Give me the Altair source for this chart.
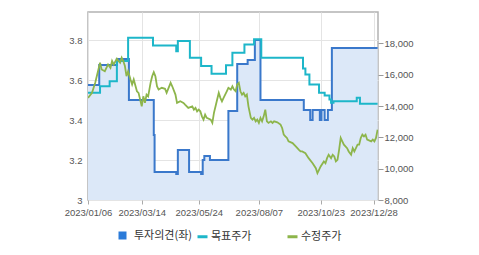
import altair as alt
import pandas as pd

# ---------------- data ----------------
# 투자의견 (left axis), change points of a step line
opinion_dates = ["2023-01-06", "2023-01-20", "2023-02-11", "2023-02-26", "2023-03-29", "2023-03-30",
                 "2023-04-26", "2023-04-28", "2023-05-12", "2023-05-27", "2023-05-29", "2023-05-31",
                 "2023-06-07", "2023-06-30", "2023-07-11", "2023-07-24", "2023-08-02", "2023-08-09",
                 "2023-10-02", "2023-10-10", "2023-10-13", "2023-10-22", "2023-10-24", "2023-10-28",
                 "2023-11-01", "2023-11-06", "2024-01-02"]
opinion_values = [3.575, 3.675, 3.705, 3.50, 3.325, 3.14,
                  3.13, 3.25, 3.14, 3.13, 3.20, 3.22,
                  3.20, 3.445, 3.68, 3.70, 3.80, 3.50,
                  3.45, 3.40, 3.45, 3.40, 3.45, 3.40,
                  3.45, 3.76, 3.76]

# 목표주가 (right axis), change points of a step line
target_dates = ["2023-01-06", "2023-01-21", "2023-02-02", "2023-02-11", "2023-02-25", "2023-03-28",
                "2023-04-26", "2023-04-28", "2023-05-13", "2023-05-27", "2023-06-09", "2023-06-27",
                "2023-07-05", "2023-07-20", "2023-08-01", "2023-08-10", "2023-10-01", "2023-10-04",
                "2023-10-09", "2023-10-21", "2023-10-28", "2023-11-03", "2023-11-05", "2023-11-08",
                "2023-12-07", "2023-12-11", "2024-01-02"]
target_values = [14840, 15260, 15580, 16870, 18360, 17860,
                 17500, 18150, 17080, 16550, 16060, 16600,
                 17400, 17930, 18260, 17080, 16400, 16010,
                 15370, 14840, 14670, 14420, 14200, 14300,
                 14520, 14150, 14150]

# 수정주가 (right axis)
price_dates = [
    "2023-01-06", "2023-01-11", "2023-01-15", "2023-01-21", "2023-01-23", "2023-01-27", "2023-01-31",
    "2023-02-03", "2023-02-05", "2023-02-07", "2023-02-11", "2023-02-13", "2023-02-15", "2023-02-17",
    "2023-02-19", "2023-02-21", "2023-02-23", "2023-02-25", "2023-02-28", "2023-03-02", "2023-03-04",
    "2023-03-08", "2023-03-10", "2023-03-12", "2023-03-14", "2023-03-16", "2023-03-18", "2023-03-20",
    "2023-03-22", "2023-03-25", "2023-03-27", "2023-03-29", "2023-03-31", "2023-04-02", "2023-04-04",
    "2023-04-08", "2023-04-12", "2023-04-14", "2023-04-19", "2023-04-21", "2023-04-25", "2023-04-27",
    "2023-05-01", "2023-05-05", "2023-05-07", "2023-05-11", "2023-05-16", "2023-05-18", "2023-05-20",
    "2023-05-22", "2023-05-24", "2023-05-26", "2023-05-28", "2023-05-30", "2023-06-01", "2023-06-03",
    "2023-06-08", "2023-06-10", "2023-06-12", "2023-06-14", "2023-06-16", "2023-06-18", "2023-06-20",
    "2023-06-22", "2023-06-24", "2023-06-26", "2023-06-28", "2023-06-30", "2023-07-03", "2023-07-05",
    "2023-07-07", "2023-07-09", "2023-07-11", "2023-07-13", "2023-07-15", "2023-07-17", "2023-07-19",
    "2023-07-21", "2023-07-23", "2023-07-25", "2023-07-28", "2023-07-30", "2023-08-01", "2023-08-03",
    "2023-08-05", "2023-08-07", "2023-08-09", "2023-08-11", "2023-08-13", "2023-08-15", "2023-08-17",
    "2023-08-19", "2023-08-22", "2023-08-24", "2023-08-26", "2023-08-30", "2023-09-03", "2023-09-05",
    "2023-09-07", "2023-09-09", "2023-09-11", "2023-09-13", "2023-09-18", "2023-09-22", "2023-09-24",
    "2023-09-26", "2023-09-28", "2023-09-30", "2023-10-04", "2023-10-08", "2023-10-13", "2023-10-17",
    "2023-10-19", "2023-10-21", "2023-10-23", "2023-10-27", "2023-10-29", "2023-10-31", "2023-11-02",
    "2023-11-05", "2023-11-07", "2023-11-09", "2023-11-11", "2023-11-13", "2023-11-15", "2023-11-17",
    "2023-11-19", "2023-11-21", "2023-11-25", "2023-11-27", "2023-11-30", "2023-12-02", "2023-12-04",
    "2023-12-06", "2023-12-08", "2023-12-10", "2023-12-12", "2023-12-14", "2023-12-16", "2023-12-18",
    "2023-12-20", "2023-12-25", "2023-12-27", "2023-12-29", "2023-12-31", "2024-01-02"]
price_values = [
    14520, 14840, 15480, 16760, 16330, 16220, 16650,
    16440, 16870, 16650, 17020, 16870, 16760, 17080,
    16870, 16550, 15900, 16220, 15690, 15370, 15690,
    14940, 14840, 14410, 13980, 14620, 14200, 14730,
    14620, 15480, 15900, 16160, 15900, 15260, 15050,
    15160, 15100, 14840, 15480, 15260, 14730, 14200,
    14300, 14200, 14090, 13880, 13980, 13770, 13880,
    13660, 13770, 13660, 13340, 13130, 13450, 13240,
    13130, 12920, 13560, 13980, 14410, 14840, 14520,
    14300, 14520, 14730, 14940, 15160, 15050, 15260,
    15050, 14940, 15370, 15480, 14940, 14730, 14840,
    14620, 14730, 13980, 13240, 13130, 13240, 13020,
    13130, 12920, 13240, 13020, 13340, 13770, 13020,
    12920, 13020, 12920, 13020, 12960, 12810, 12600,
    12170, 12060, 11960, 11740, 11630, 11420, 11310,
    11200, 11100, 11100, 10990, 10670, 10350, 10030,
    9710, 9920, 10140, 10460, 10350, 10670, 10890,
    10670, 10890, 10780, 10460, 10560, 11200, 11960,
    11740, 11530, 11310, 11100, 10890, 11310, 11100,
    11310, 11530, 11530, 11960, 12170, 12060, 12170,
    11850, 11740, 11850, 11740, 11960, 12490]

series_opinion = "투자의견(좌)"
series_lines = ["목표주가", "수정주가"]
tick_dates = [(2023, 1, 6), (2023, 3, 14), (2023, 5, 24), (2023, 8, 7), (2023, 10, 23), (2023, 12, 28)]
left_ticks = [3, 3.2, 3.4, 3.6, 3.8]
right_ticks = [8000, 10000, 12000, 14000, 16000, 18000]

# ---------------- tables ----------------
opinion_df = pd.DataFrame({"date": pd.to_datetime(opinion_dates), "value": opinion_values,
                           "name": series_opinion})
target_df = pd.DataFrame({"date": pd.to_datetime(target_dates), "value": target_values,
                          "name": series_lines[0]})
price_df = pd.DataFrame({"date": pd.to_datetime(price_dates), "value": price_values,
                         "name": series_lines[1]})

AX_FONT = "Liberation Sans"
LG_FONT = "Noto Sans CJK KR"
GRID = "#e4e4e4"

x_enc = alt.X(
    "date:T",
    scale=alt.Scale(domain=[alt.DateTime(year=2023, month=1, date=6),
                            alt.DateTime(year=2024, month=1, date=2, hours=12)]),
    axis=alt.Axis(values=[alt.DateTime(year=y, month=m, date=d) for y, m, d in tick_dates],
                  format="%Y/%m/%d", title=None, grid=True, gridColor=GRID,
                  domain=False, ticks=True, tickSize=4, tickColor="#aaaaaa",
                  labelFont=AX_FONT, labelFontSize=9.5, labelColor="#555555",
                  labelPadding=3, labelFlush=False, labelOverlap=False),
)

left_y = alt.Y("value:Q",
               scale=alt.Scale(domain=[3, 3.94], zero=False, nice=False),
               axis=alt.Axis(values=left_ticks, format=".1~f", title=None, grid=True,
                             gridColor=GRID, domain=False, ticks=False, labelPadding=6,
                             labelFont=AX_FONT, labelFontSize=9.5, labelColor="#555555"))

right_y = alt.Y("value:Q",
                scale=alt.Scale(domain=[8000, 20000], zero=False, nice=False),
                axis=alt.Axis(orient="right", values=right_ticks, format=",d", title=None,
                              grid=False, domain=False, ticks=True, tickSize=5,
                              tickColor="#999999", labelPadding=1,
                              labelFont=AX_FONT, labelFontSize=9.5, labelColor="#555555"))

area = alt.Chart(opinion_df).mark_area(
    interpolate="step-after", color="#dce8f8", clip=True
).encode(x=x_enc, y=left_y, y2=alt.datum(3))

opinion_line = alt.Chart(opinion_df).mark_line(
    interpolate="step-after", color="#3a78cb", strokeWidth=2, clip=True
).encode(x=x_enc, y=left_y)

# legend-only layer (no rows are drawn)
opinion_key = alt.Chart(opinion_df).transform_filter("false").mark_square(
    size=64, filled=True, opacity=1
).encode(
    x=x_enc, y=left_y,
    fill=alt.Fill("name:N",
                  scale=alt.Scale(domain=[series_opinion], range=["#2b7bd9"]),
                  legend=alt.Legend(title=None, orient="none", legendX=29, legendY=218,
                                    symbolType="square", symbolSize=64, symbolStrokeWidth=0,
                                    labelFont=LG_FONT, labelFontSize=11, labelColor="#333333",
                                    labelOffset=6, padding=0)),
)

stroke_enc = alt.Stroke(
    "name:N",
    scale=alt.Scale(domain=series_lines, range=["#1db6c9", "#8db54b"]),
    legend=alt.Legend(title=None, orient="none", legendX=108, legendY=218,
                      direction="horizontal", symbolType="stroke", symbolSize=100,
                      symbolStrokeWidth=3, columnPadding=29,
                      labelFont=LG_FONT, labelFontSize=11, labelColor="#333333",
                      labelOffset=2, padding=0),
)

target_line = alt.Chart(target_df).mark_line(
    interpolate="step-after", strokeWidth=2, clip=True
).encode(x=x_enc, y=right_y, stroke=stroke_enc)

price_line = alt.Chart(price_df).mark_line(
    strokeWidth=1.8, clip=True
).encode(x=x_enc, y=right_y, stroke=stroke_enc)

left = alt.layer(area, opinion_line, opinion_key)
right = alt.layer(target_line, price_line)

chart = alt.layer(left, right).resolve_scale(y="independent").properties(
    width=290, height=188,
    autosize=alt.AutoSizeParams(type="none"),
    padding={"left": 88, "top": 12, "right": 101, "bottom": 55},
    background="white",
).configure_view(stroke="#b3b3b3", strokeWidth=1.5)

chart.save("out.html", embed_options={"renderer": "svg", "actions": False})
